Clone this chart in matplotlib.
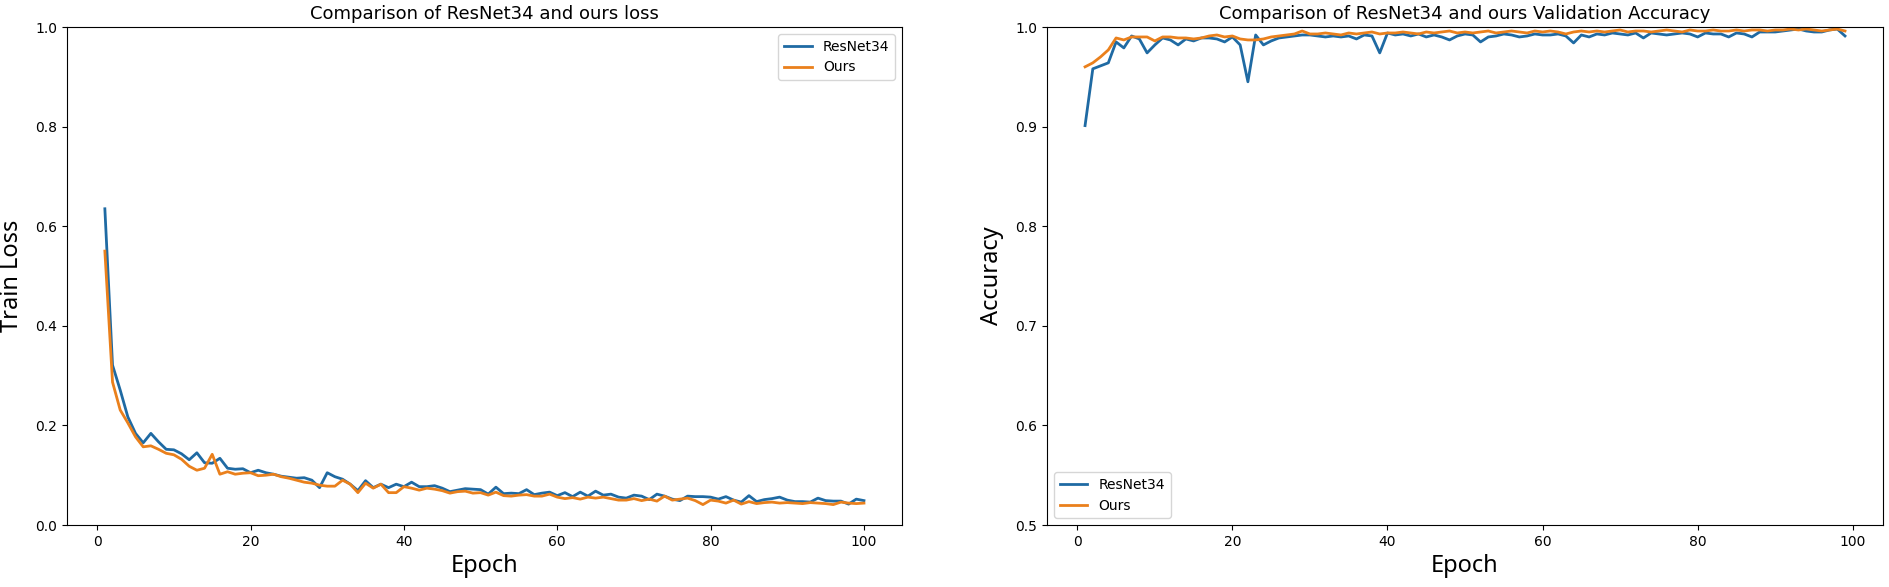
"""
Loss and validation accuracy, ResNet34 vs ours
"""

import matplotlib
matplotlib.use("Agg")
import matplotlib.pyplot as plt

# train loss per epoch (epochs 1..100)
resnet_loss = [0.635, 0.321, 0.271, 0.217, 0.184, 0.165, 0.184, 0.167, 0.152, 0.151,
               0.143, 0.131, 0.145, 0.125, 0.124, 0.134, 0.114, 0.112, 0.113, 0.105,
               0.110, 0.105, 0.102, 0.098, 0.096, 0.094, 0.095, 0.090, 0.075, 0.105,
               0.097, 0.092, 0.082, 0.069, 0.089, 0.075, 0.082, 0.075, 0.082, 0.077,
               0.086, 0.077, 0.077, 0.079, 0.074, 0.067, 0.070, 0.073, 0.072, 0.071,
               0.062, 0.076, 0.063, 0.064, 0.063, 0.071, 0.061, 0.064, 0.066, 0.059,
               0.065, 0.057, 0.066, 0.058, 0.068, 0.060, 0.062, 0.056, 0.054, 0.060,
               0.058, 0.051, 0.062, 0.058, 0.052, 0.049, 0.058, 0.057, 0.057, 0.056,
               0.052, 0.057, 0.050, 0.046, 0.059, 0.047, 0.051, 0.053, 0.056, 0.050,
               0.047, 0.047, 0.046, 0.054, 0.049, 0.048, 0.048, 0.042, 0.052, 0.049]
ours_loss = [0.550, 0.287, 0.231, 0.205, 0.177, 0.157, 0.159, 0.152, 0.144, 0.141,
             0.132, 0.118, 0.110, 0.114, 0.142, 0.102, 0.107, 0.102, 0.104, 0.105,
             0.099, 0.100, 0.102, 0.097, 0.094, 0.090, 0.086, 0.084, 0.080, 0.078,
             0.078, 0.090, 0.082, 0.065, 0.084, 0.074, 0.082, 0.065, 0.065, 0.077,
             0.074, 0.070, 0.074, 0.072, 0.069, 0.064, 0.067, 0.068, 0.064, 0.065,
             0.060, 0.066, 0.059, 0.058, 0.060, 0.061, 0.058, 0.058, 0.062, 0.056,
             0.053, 0.055, 0.052, 0.056, 0.054, 0.056, 0.053, 0.050, 0.050, 0.053,
             0.049, 0.052, 0.048, 0.058, 0.050, 0.052, 0.054, 0.049, 0.041, 0.050,
             0.048, 0.044, 0.050, 0.042, 0.047, 0.043, 0.045, 0.046, 0.044, 0.045,
             0.044, 0.043, 0.045, 0.044, 0.043, 0.041, 0.046, 0.044, 0.043, 0.044]

# validation accuracy per epoch (epochs 1..99)
resnet_acc = [0.901, 0.958, 0.961, 0.964, 0.985, 0.979, 0.991, 0.988, 0.974, 0.982,
              0.989, 0.987, 0.982, 0.988, 0.986, 0.989, 0.989, 0.988, 0.985, 0.990,
              0.982, 0.945, 0.992, 0.982, 0.986, 0.989, 0.990, 0.991, 0.992, 0.992,
              0.991, 0.990, 0.991, 0.990, 0.991, 0.988, 0.992, 0.991, 0.974, 0.994,
              0.992, 0.993, 0.991, 0.993, 0.990, 0.992, 0.990, 0.987, 0.991, 0.993,
              0.992, 0.985, 0.990, 0.991, 0.993, 0.992, 0.990, 0.991, 0.993, 0.992,
              0.992, 0.993, 0.991, 0.984, 0.992, 0.990, 0.993, 0.992, 0.994, 0.993,
              0.992, 0.994, 0.989, 0.994, 0.993, 0.992, 0.993, 0.994, 0.993, 0.990,
              0.994, 0.993, 0.993, 0.990, 0.994, 0.993, 0.990, 0.995, 0.995, 0.995,
              0.996, 0.997, 0.998, 0.996, 0.995, 0.995, 0.997, 0.998, 0.991]
ours_acc = [0.960, 0.964, 0.970, 0.977, 0.989, 0.987, 0.990, 0.990, 0.990, 0.986,
            0.990, 0.990, 0.989, 0.989, 0.988, 0.989, 0.991, 0.992, 0.990, 0.991,
            0.988, 0.987, 0.987, 0.988, 0.990, 0.991, 0.992, 0.993, 0.996, 0.993,
            0.993, 0.994, 0.993, 0.992, 0.994, 0.993, 0.994, 0.995, 0.993, 0.994,
            0.994, 0.995, 0.994, 0.993, 0.995, 0.994, 0.995, 0.996, 0.994, 0.995,
            0.994, 0.995, 0.996, 0.994, 0.995, 0.996, 0.995, 0.994, 0.996, 0.995,
            0.996, 0.995, 0.993, 0.995, 0.996, 0.995, 0.996, 0.995, 0.996, 0.997,
            0.995, 0.996, 0.996, 0.995, 0.996, 0.997, 0.996, 0.995, 0.997, 0.996,
            0.996, 0.997, 0.996, 0.996, 0.997, 0.996, 0.997, 0.997, 0.996, 0.997,
            0.997, 0.998, 0.997, 0.998, 0.997, 0.996, 0.997, 0.998, 0.996]

loss_epochs = list(range(1, len(resnet_loss) + 1))
acc_epochs = list(range(1, len(resnet_acc) + 1))

BLUE = "#1f6aa3"
ORANGE = "#ea801c"
LABEL_FONT = dict(family="Noto Sans", fontsize=17)

fig = plt.figure(figsize=(18.9, 5.87), dpi=100)

ax1 = fig.add_axes([0.0354, 0.1056, 0.4418, 0.8484])
ax1.plot(loss_epochs, resnet_loss, color=BLUE, linewidth=2, label="ResNet34")
ax1.plot(loss_epochs, ours_loss, color=ORANGE, linewidth=2, label="Ours")
ax1.set_ylim(0, 1.0)
ax1.set_title("Comparison of ResNet34 and ours loss", fontsize=13)
ax1.set_xlabel("Epoch", **LABEL_FONT)
ax1.set_ylabel("Train Loss", labelpad=8, **LABEL_FONT)
ax1.legend(loc="upper right")

ax2 = fig.add_axes([0.554, 0.1056, 0.4423, 0.8484])
ax2.plot(acc_epochs, resnet_acc, color=BLUE, linewidth=2, label="ResNet34")
ax2.plot(acc_epochs, ours_acc, color=ORANGE, linewidth=2, label="Ours")
ax2.set_ylim(0.5, 1.0)
ax2.set_title("Comparison of ResNet34 and ours Validation Accuracy", fontsize=13)
ax2.set_xlabel("Epoch", **LABEL_FONT)
ax2.set_ylabel("Accuracy", labelpad=8, **LABEL_FONT)
ax2.legend(loc="lower left")

fig.savefig("out.png", dpi=100)
